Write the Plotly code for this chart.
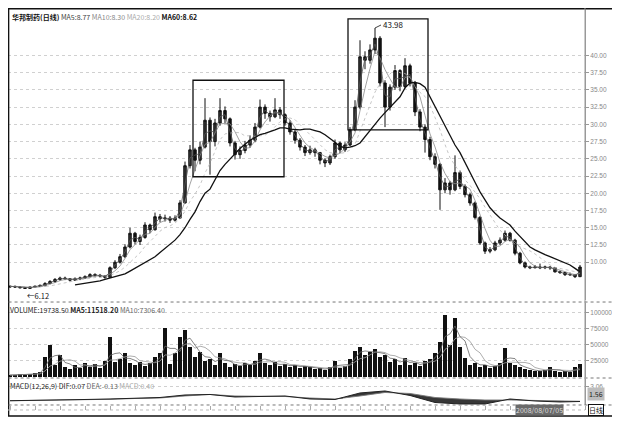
import plotly.graph_objects as go
import pandas as pd

# ---------------- data ----------------
close = [6.5, 6.4, 6.3, 6.2, 6.4, 6.5, 6.6, 6.9, 7.2, 7.5,
         7.7, 7.6, 7.4, 7.6, 7.7, 7.9, 8.2, 8.1, 8.0, 7.8,
         9.2, 10.0, 10.8, 12.2, 14.2, 13.0, 13.6, 15.4, 14.7, 16.6,
         16.3, 16.4, 16.1, 16.4, 18.6, 24.0, 26.3, 24.8, 26.7, 30.6,
         27.5, 30.2, 32.0, 30.8, 27.3, 25.6, 26.2, 27.0, 27.7, 29.6,
         32.5, 31.6, 31.1, 32.1, 31.4, 30.2, 28.9, 27.7, 26.7, 25.9,
         26.3, 25.9, 24.8, 24.4, 25.3, 27.3, 26.3, 27.0, 29.2, 32.5,
         39.8, 39.3, 40.8, 42.5, 36.0, 32.5, 35.4, 37.8, 35.5, 38.5,
         36.0, 31.8, 29.6, 27.8, 25.3, 24.2, 20.5, 21.5, 20.5, 23.0,
         21.0, 19.8, 18.6, 16.5, 12.8, 11.6, 11.8, 12.8, 13.2, 14.2,
         13.2, 11.3, 9.9, 9.3, 9.2, 9.3, 9.2, 9.3, 9.2, 8.6,
         8.5, 8.2, 8.2, 7.9, 9.3]
open_ = [6.4, 6.5, 6.4, 6.3, 6.2, 6.4, 6.5, 6.6, 6.9, 7.2,
         7.5, 7.7, 7.6, 7.4, 7.6, 7.7, 7.9, 8.2, 8.1, 8.0,
         7.8, 9.2, 10.0, 10.8, 12.2, 14.2, 13.0, 13.6, 15.4, 14.7,
         16.6, 16.3, 16.4, 16.1, 16.4, 18.6, 24.0, 26.3, 24.8, 26.7,
         30.6, 27.5, 30.2, 32.0, 30.8, 27.3, 25.6, 26.2, 27.0, 27.7,
         29.6, 32.5, 31.6, 31.1, 32.1, 31.4, 30.2, 28.9, 27.7, 26.7,
         25.9, 26.3, 25.9, 24.8, 24.4, 25.3, 27.3, 26.3, 27.0, 29.2,
         32.5, 39.8, 39.3, 40.8, 42.5, 36.0, 32.5, 35.4, 37.8, 35.5,
         38.5, 36.0, 31.8, 29.6, 27.8, 25.3, 24.2, 20.5, 21.5, 20.5,
         23.0, 21.0, 19.8, 18.6, 16.5, 12.8, 11.6, 11.8, 12.8, 13.2,
         14.2, 13.2, 11.3, 9.9, 9.3, 9.2, 9.3, 9.2, 9.3, 9.2,
         8.6, 8.5, 8.2, 8.2, 7.9]
high = [6.6, 6.6, 6.5, 6.4, 6.5, 6.6, 6.8, 7.1, 7.4, 7.7,
        7.9, 7.9, 7.7, 7.8, 7.9, 8.1, 8.4, 8.4, 8.3, 8.1,
        9.4, 10.3, 11.2, 12.6, 15.0, 14.4, 14.0, 15.8, 15.6, 17.2,
        17.0, 16.9, 16.7, 16.8, 19.0, 24.6, 27.0, 26.6, 27.5, 33.8,
        31.0, 30.8, 33.8, 32.6, 31.0, 27.6, 26.8, 27.6, 28.4, 30.2,
        33.6, 32.9, 32.0, 33.8, 32.5, 31.6, 30.6, 29.2, 28.0, 27.0,
        26.9, 26.6, 26.0, 25.1, 25.6, 27.8, 27.5, 27.4, 29.6, 33.5,
        42.2, 40.6, 41.6, 43.98, 42.8, 36.4, 35.8, 38.6, 38.0, 39.6,
        38.8, 36.3, 32.2, 30.0, 28.2, 25.8, 24.4, 22.2, 21.8, 25.5,
        23.3, 21.3, 20.1, 18.8, 16.7, 13.0, 12.2, 13.1, 13.6, 14.6,
        14.4, 13.4, 11.5, 10.1, 9.5, 9.6, 9.8, 9.5, 9.4, 9.3,
        8.8, 8.6, 8.5, 8.3, 9.6]
low = [6.3, 6.3, 6.2, 6.12, 6.2, 6.3, 6.4, 6.5, 6.8, 7.0,
       7.3, 7.4, 7.2, 7.3, 7.4, 7.6, 7.8, 7.9, 7.8, 7.6,
       7.8, 9.0, 9.8, 10.6, 12.0, 12.6, 12.5, 13.4, 14.2, 14.6,
       15.8, 15.9, 15.7, 15.9, 16.3, 18.5, 23.6, 23.2, 24.2, 26.5,
       22.7, 26.8, 29.8, 30.2, 26.8, 24.9, 25.0, 25.8, 26.6, 27.4,
       29.4, 30.8, 30.4, 30.9, 30.8, 29.8, 28.5, 27.2, 26.2, 25.4,
       25.6, 25.3, 24.2, 23.8, 24.1, 25.0, 25.8, 26.0, 26.8, 29.0,
       32.2, 38.0, 38.8, 40.2, 35.5, 29.6, 32.0, 35.0, 34.8, 35.2,
       35.5, 31.2, 29.0, 25.9, 24.8, 23.6, 17.6, 20.0, 19.8, 20.3,
       20.6, 19.4, 18.2, 16.2, 12.5, 11.2, 11.3, 11.6, 12.5, 13.0,
       13.0, 11.0, 9.7, 9.1, 9.0, 9.1, 9.0, 9.0, 8.9, 8.5,
       8.3, 8.0, 8.0, 7.7, 7.9]
ma60 = [None] * 13 + [
    6.7, 6.8, 6.9, 7.0, 7.1, 7.3, 7.5, 7.7, 7.9, 8.1,
    8.3, 8.7, 9.1, 9.5, 9.9, 10.3, 10.8, 11.4, 12.0, 12.6,
    13.2, 14.0, 15.0, 16.2, 17.3, 18.8, 20.0, 20.6, 22.0, 23.3,
    24.2, 25.0, 25.8, 26.5, 27.1, 27.7, 28.1, 28.5, 28.7, 28.9,
    29.2, 29.5, 29.5, 29.3, 29.2, 29.2, 29.3, 29.3, 29.1, 28.9,
    28.5, 28.0, 27.4, 26.8, 26.6, 26.7, 26.9, 27.3, 28.2, 29.2,
    30.0, 30.9, 31.7, 32.5, 33.3, 34.0, 35.3, 36.0, 36.1, 35.9,
    35.4, 34.0, 32.6, 31.1, 29.6, 28.2, 27.0, 25.9, 24.4, 23.0,
    21.6, 20.2, 19.0, 17.9, 17.1, 16.4, 15.9, 15.4, 14.5, 13.7,
    12.9, 12.2, 11.8, 11.4, 11.1, 10.8, 10.5, 10.3, 10.0, 9.6,
    9.1, 8.6]
volume = [3000, 3500, 4000, 3000, 4500, 6000, 8000, 31000, 50000, 19000,
          34000, 15000, 12000, 18000, 14000, 22000, 16000, 20000, 14000, 25000,
          62000, 23000, 28000, 37000, 22000, 19000, 23000, 17000, 22000, 31000,
          37000, 77000, 20000, 37000, 62000, 73000, 47000, 31000, 39000, 25000,
          28000, 19000, 37000, 22000, 16000, 20000, 17000, 22000, 19000, 25000,
          37000, 22000, 19000, 23000, 17000, 20000, 16000, 19000, 14000, 17000,
          16000, 12000, 14000, 11000, 16000, 25000, 14000, 17000, 28000, 41000,
          47000, 34000, 39000, 44000, 31000, 34000, 23000, 28000, 19000, 30000,
          19000, 22000, 17000, 25000, 28000, 37000, 55000, 97000, 50000, 92000,
          47000, 30000, 19000, 22000, 16000, 19000, 14000, 17000, 22000, 45000,
          22000, 19000, 16000, 12000, 11000, 9000, 9000, 11000, 16000, 9000,
          8000, 9000, 8000, 15000, 19738.5]
macd_idx = [0, 5, 10, 15, 20, 25, 30, 35, 40, 45, 50, 55,
            60, 65, 70, 75, 80, 85, 90, 95, 100, 105, 110, 114]
dif = [0.26, 0.3, 0.4, 0.5, 0.6, 0.8, 0.9, 1.4, 1.5, 1.0, 1.1, 1.2,
       0.6, 0.5, 1.8, 2.2, 1.3, -0.1, -0.4, -0.4, 0.6, 0.2, 0.0, 0.1]
dea = [0.24, 0.28, 0.36, 0.44, 0.54, 0.7, 0.8, 1.2, 1.5, 1.2, 1.1, 1.1,
       0.8, 0.6, 1.2, 1.9, 1.7, 0.9, 0.6, 0.4, 0.4, 0.3, 0.2, 0.14]
price_ticks = [10, 12.5, 15, 17.5, 20, 22.5, 25, 27.5, 30, 32.5, 35, 37.5, 40]
volume_ticks = [25000, 50000, 75000, 100000]
high_label = 43.98
low_label = 6.12
idx = list(range(len(close)))

cs = pd.Series(close)
ma_a = cs.rolling(2, min_periods=1).mean()
ma_b = cs.rolling(4, min_periods=1).mean()
ma_c = cs.rolling(8, min_periods=1).mean()
vs = pd.Series(volume)
vma_a = vs.rolling(3, min_periods=1).mean()
vma_b = vs.rolling(6, min_periods=1).mean()

# ---------------- figure ----------------
fig = go.Figure()
fig.add_trace(go.Candlestick(
    x=idx, open=open_, high=high, low=low, close=close,
    increasing=dict(line=dict(color="#111", width=1), fillcolor="#333"),
    decreasing=dict(line=dict(color="#111", width=1), fillcolor="#111"),
    whiskerwidth=0, showlegend=False, xaxis="x", yaxis="y", hoverinfo="skip"))
for s, c, d in [(ma_c, "#b8b8b8", "dot"), (ma_b, "#8a8a8a", "solid"), (ma_a, "#555", "solid")]:
    fig.add_trace(go.Scatter(x=idx, y=s, mode="lines", line=dict(color=c, width=0.8, dash=d),
                             showlegend=False, xaxis="x", yaxis="y", hoverinfo="skip"))
fig.add_trace(go.Scatter(x=idx, y=ma60, mode="lines", line=dict(color="#111", width=1.3),
                         showlegend=False, xaxis="x", yaxis="y", hoverinfo="skip"))

fig.add_trace(go.Bar(x=idx, y=volume, marker=dict(color="#111", line=dict(width=0)), width=0.9,
                     showlegend=False, xaxis="x2", yaxis="y2", hoverinfo="skip"))
for s, c in [(vma_b, "#999"), (vma_a, "#666")]:
    fig.add_trace(go.Scatter(x=idx, y=s, mode="lines", line=dict(color=c, width=0.8),
                             showlegend=False, xaxis="x2", yaxis="y2", hoverinfo="skip"))

fig.add_trace(go.Scatter(x=macd_idx, y=dea, mode="lines", line=dict(color="#777", width=0.9),
                         showlegend=False, xaxis="x3", yaxis="y3", hoverinfo="skip"))
fig.add_trace(go.Scatter(x=macd_idx, y=dif, mode="lines", line=dict(color="#222", width=1),
                         fill="tonexty", fillcolor="rgba(20,20,20,0.85)",
                         showlegend=False, xaxis="x3", yaxis="y3", hoverinfo="skip"))

TICKFONT = dict(family="Liberation Sans, Arial", size=6.5, color="#888")
xcommon = dict(range=[-0.4, 115], showgrid=False, zeroline=False, showticklabels=False,
               showline=False, fixedrange=True)
ycommon = dict(side="right", showline=True, linecolor="#999", linewidth=1, ticks="outside",
               ticklen=3, tickcolor="#999", tickfont=TICKFONT, showgrid=True,
               gridcolor="#d0d0d0", griddash="dot", zeroline=False)

# page body adds an 8px offset, so the figure is 612x414 and starts at (8, 8)
fig.update_layout(
    width=612, height=414,
    margin=dict(l=0, r=35, t=0, b=7),
    paper_bgcolor="white", plot_bgcolor="white",
    font=dict(family="Noto Sans CJK SC, Liberation Sans", size=8, color="#111"),
    xaxis=dict(**xcommon, domain=[0, 1], anchor="y", rangeslider=dict(visible=False)),
    xaxis2=dict(**xcommon, domain=[0, 1], anchor="y2", matches="x"),
    xaxis3=dict(range=[-0.4, 115], domain=[0, 1], anchor="y3", matches="x", showgrid=False,
                zeroline=False, showticklabels=False, ticks="outside", ticklen=4,
                tickcolor="#aaa", dtick=5, tick0=0, showline=False),
    yaxis=dict(**ycommon, domain=[0.2826, 1], range=[4.52, 46.88], tickvals=price_ticks,
               ticktext=[f"{v:.2f}" for v in price_ticks]),
    yaxis2=dict(**ycommon, domain=[0.0934, 0.2752], range=[0, 115600], tickvals=volume_ticks,
                ticktext=[str(v) for v in volume_ticks]),
    yaxis3=dict(**ycommon, domain=[0.0246, 0.0885], range=[-0.6, 4.6], tickvals=[3.06],
                ticktext=["3.06"]),
    bargap=0,
)

shapes = []
# outer frame
shapes.append(dict(type="rect", xref="paper", yref="paper", x0=0.001, x1=1.0485, y0=-0.0025, y1=0.998,
                   line=dict(color="#111", width=1.5), fillcolor="rgba(0,0,0,0)"))
# right axis line full height
shapes.append(dict(type="line", xref="paper", yref="paper", x0=1, x1=1, y0=0.0246, y1=1.0,
                   line=dict(color="#999", width=1)))
# panel separators (dotted)
for yp in [0.2776, 0.0909, 0.0246]:
    shapes.append(dict(type="line", xref="paper", yref="paper", x0=0.001, x1=1.0485, y0=yp, y1=yp,
                       line=dict(color="#777", width=1, dash="dot")))
shapes.append(dict(type="line", xref="paper", yref="paper", x0=0, x1=1, y0=0.0123, y1=0.0123,
                   line=dict(color="#bbb", width=1, dash="dot")))
# the two highlighted boxes
shapes.append(dict(type="rect", xref="x", yref="y", x0=36.6, x1=54.8, y0=22.4, y1=36.4,
                   line=dict(color="#111", width=1.3)))
shapes.append(dict(type="rect", xref="x", yref="y", x0=67.6, x1=83.6, y0=29.2, y1=45.3,
                   line=dict(color="#111", width=1.3)))
fig.update_layout(shapes=shapes)

ann = []
ann.append(dict(xref="paper", yref="paper", x=0.003, y=0.996, xanchor="left", yanchor="top",
                showarrow=False, font=dict(size=7, color="#111"),
                text="<b>华邦制药(日线)</b> <span style='color:#444'>MA5:8.77</span> "
                     "<span style='color:#888'>MA10:8.30</span> <span style='color:#aaa'>MA20:8.20</span> "
                     "<b>MA60:8.62</b>"))
ann.append(dict(xref="paper", yref="paper", x=0.0, y=0.2742, xanchor="left", yanchor="top",
                showarrow=False, font=dict(size=7, color="#222"),
                text="VOLUME:19738.50 <b>MA5:11518.20</b> <span style='color:#666'>MA10:7306.40</span>"))
ann.append(dict(xref="paper", yref="paper", x=0.0, y=0.0890, xanchor="left", yanchor="top",
                showarrow=False, font=dict(size=7, color="#222"),
                text="MACD(12,26,9) DIF:0.07 <span style='color:#666'>DEA:-0.13</span> "
                     "<span style='color:#aaa'>MACD:0.40</span>"))
ann.append(dict(xref="x", yref="y", x=73, y=high_label, text=f"{high_label:.2f}", showarrow=True,
                arrowhead=0, arrowwidth=0.8, arrowcolor="#111", ax=6, ay=-3, xanchor="left",
                font=dict(size=8, color="#111")))
ann.append(dict(xref="x", yref="y", x=3, y=low_label, text=f"←{low_label:.2f}", showarrow=False,
                xanchor="left", yanchor="top", yshift=1, font=dict(size=7.5, color="#111")))
ann.append(dict(xref="paper", yref="y3", x=1.003, y=1.56, text="1.56", showarrow=False,
                xanchor="left", yanchor="middle", bgcolor="#bdbdbd", font=dict(size=7, color="#222")))
ann.append(dict(xref="paper", yref="paper", x=0.922, y=0.0123, text="2008/08/07/05", showarrow=False,
                xanchor="center", yanchor="middle", bgcolor="#6a6a6a", font=dict(size=7, color="#ddd"),
                borderpad=0))
ann.append(dict(xref="paper", yref="paper", x=1.0195, y=0.0123, text="日线", showarrow=False,
                xanchor="center", yanchor="middle", bgcolor="white", bordercolor="#111",
                borderwidth=1, borderpad=0, font=dict(size=7, color="#111")))
fig.update_layout(annotations=ann)

fig.write_html("out.html")
